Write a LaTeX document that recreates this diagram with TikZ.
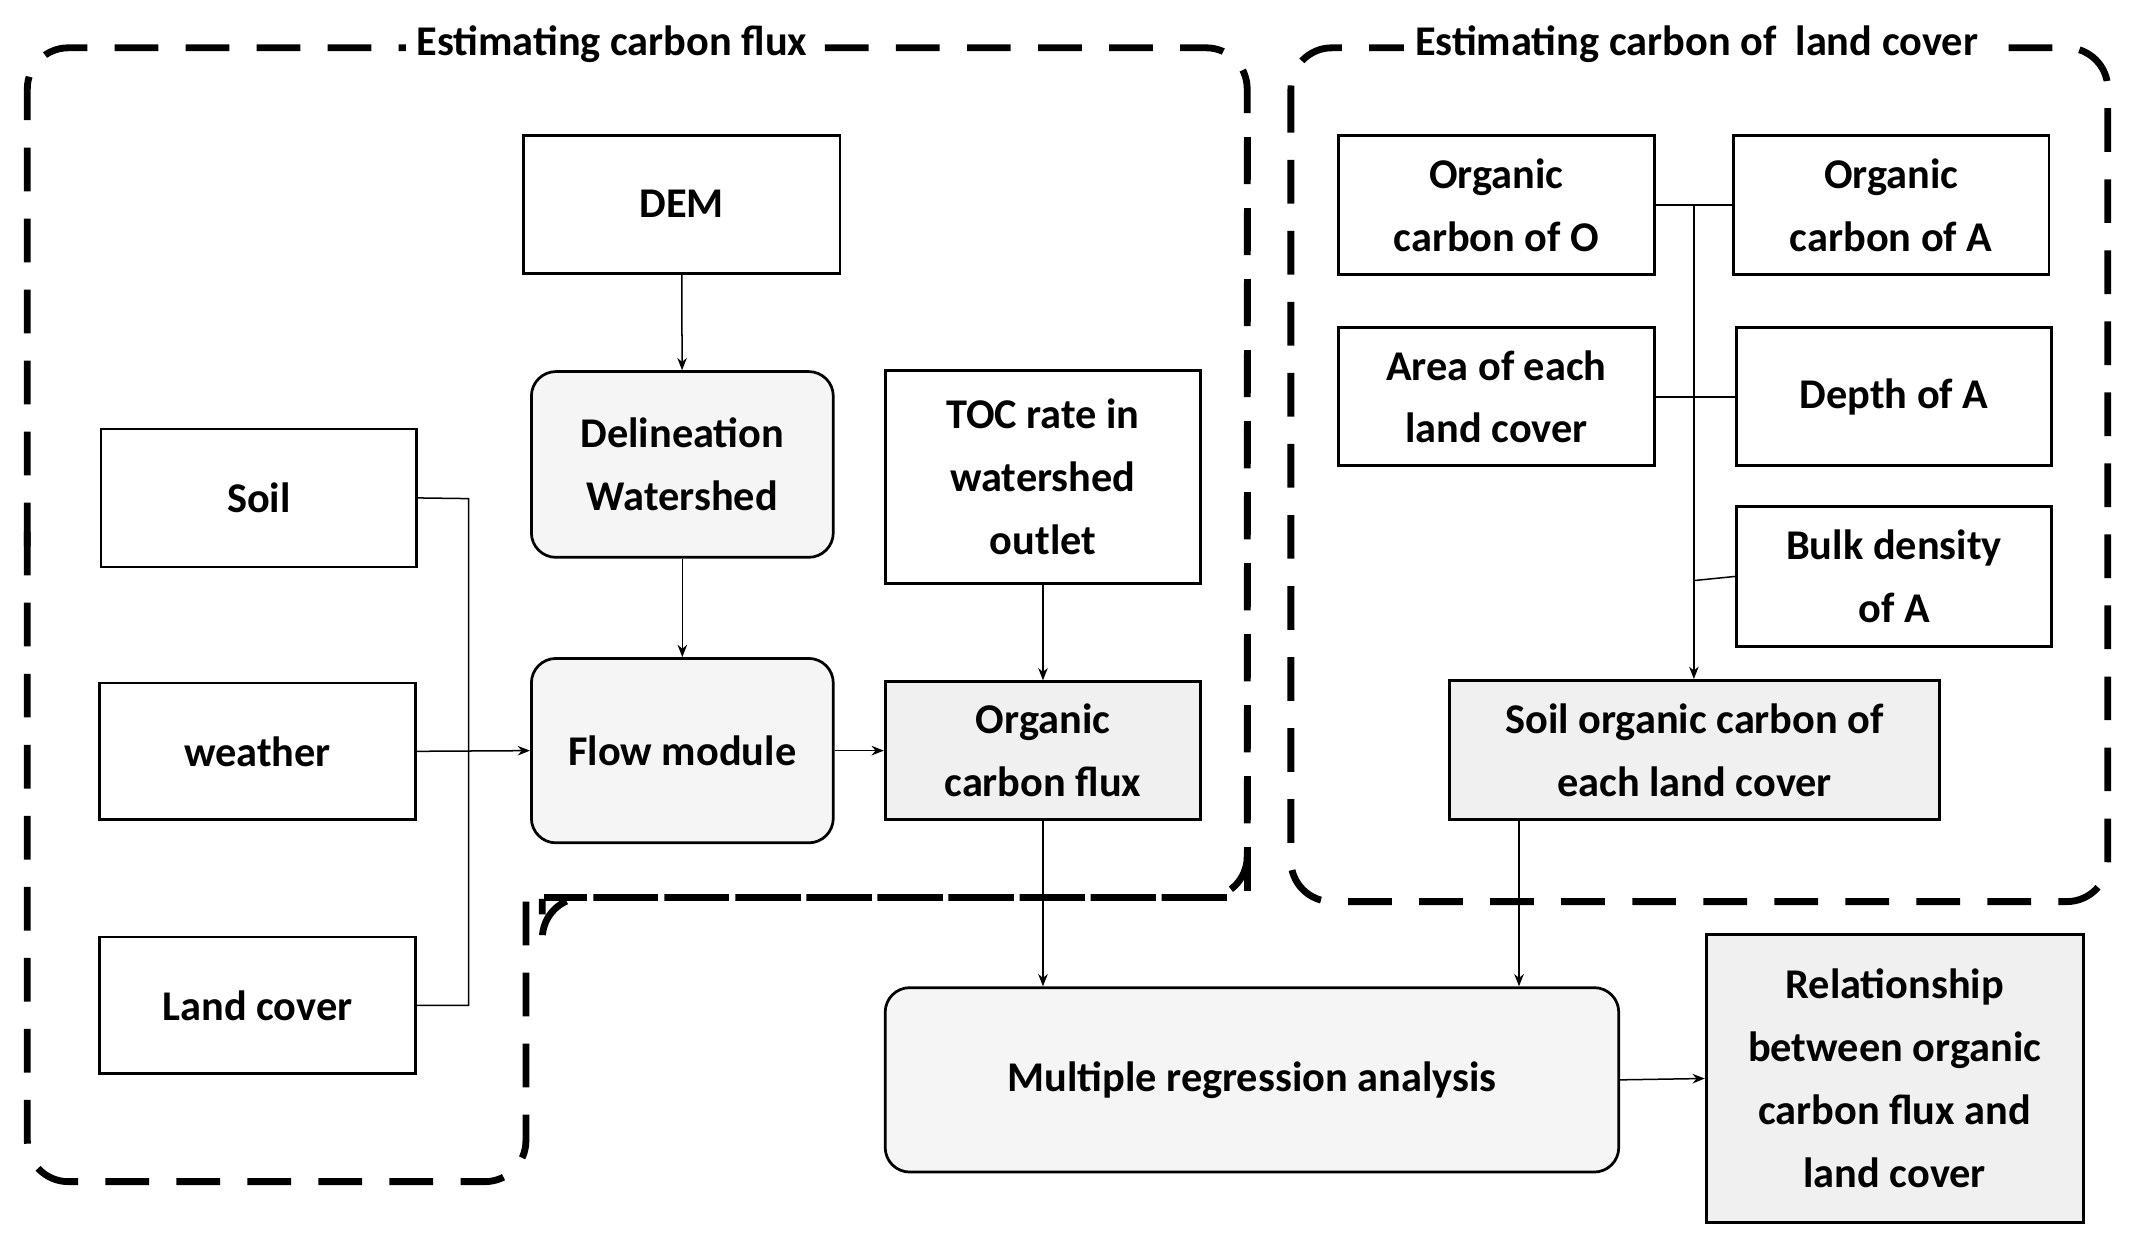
\documentclass[tikz,border=0pt]{standalone}
\usepackage{fontspec}
\setmainfont{Carlito}
\usetikzlibrary{arrows.meta}
\begin{document}
\begin{tikzpicture}[x=1pt,y=-1pt,
  box/.style={draw,line width=2pt,align=center,font=\fontsize{31}{46}\selectfont\bfseries,inner sep=0pt},
  gbox/.style={box,fill=gray!12},
  rbox/.style={box,fill=gray!8,rounded corners=18pt},
  ar/.style={-{Stealth[length=9pt,width=7pt]},line width=1.1pt},
  ln/.style={line width=1.1pt},
  reg/.style={line width=5pt,dash pattern=on 32pt off 20pt,rounded corners=30pt},
  ttl/.style={fill=white,inner xsep=8pt,font=\fontsize{31}{36}\selectfont\bfseries}]
\useasboundingbox (0,0) rectangle (1560,919);
\def\B#1#2#3#4#5#6#7{\node[#1,minimum width=#4-#3,minimum height=#6-#5] (#2) at ({(#3+#4)/2},{(#5+#6)/2}) {#7};}
% regions
\draw[reg] (20,400) -- (20,35) -- (913,35) -- (913,657) -- (397,657) -- (397,658);
\draw[reg,rounded corners=0pt] (913,100) -- (913,657) -- (397,657);
\draw[reg] (385,660) -- (385,865) -- (20,865) -- (20,380);
\draw[reg] (945,35) rectangle (1543,660);
\node[ttl] (t1) at (448,32) {Estimating carbon flux};
\node[ttl] (t2) at (1242,32) {Estimating carbon of\ \ land cover};
\B{box}{dem}{383}{615}{99}{200}{DEM}
\B{rbox}{del}{389}{610}{272}{408}{Delineation\\Watershed}
\B{box}{soil}{74}{305}{314}{415}{Soil}
\B{box}{wea}{73}{304}{500}{600}{weather}
\B{box}{lc}{73}{304}{686}{786}{Land cover}
\B{rbox}{flow}{389}{610}{482}{617}{Flow module}
\B{box}{toc}{648}{879}{271}{427}{TOC rate in\\watershed\\outlet}
\B{gbox}{ocf}{648}{879}{499}{600}{Organic\\carbon flux}
\B{box}{oco}{980}{1211}{99}{201}{Organic\\carbon of O}
\B{box}{oca}{1269}{1500}{99}{201}{Organic\\carbon of A}
\B{box}{area}{980}{1211}{240}{341}{Area of each\\land cover}
\B{box}{dep}{1271}{1502}{240}{341}{Depth of A}
\B{box}{bulk}{1271}{1502}{371}{473}{Bulk density\\of A}
\B{gbox}{soc}{1061}{1420}{498}{600}{Soil organic carbon of\\each land cover}
\B{rbox}{mra}{648}{1185}{723}{858}{Multiple regression analysis}
\B{gbox}{rel}{1249}{1525}{684}{895}{Relationship\\between organic\\carbon flux and\\land cover}
% connectors
\draw[ln] (soil.east) -- (343,365) -- (343,736) -- (lc.east);
\draw[ar] (wea.east) -- (flow.west);
\draw[ar] (dem) -- (del);
\draw[ar] (del) -- (flow);
\draw[ar] (flow.east) -- (ocf.west);
\draw[ar] (toc) -- (ocf);
\draw[ln] (oco.east) -- (oca.west);
\draw[ln] (area.east) -- (dep.west);
\draw[ln] (1240,425) -- (bulk.west);
\draw[ar] (1240,150) -- (soc.north -| 1240,0);
\draw[ar] (ocf.south) -- (mra.north -| ocf.south);
\draw[ar] (soc.south -| 1112,0) -- (mra.north -| 1112,0);
\draw[ar] (mra.east) -- (rel.west);
\end{tikzpicture}
\end{document}
